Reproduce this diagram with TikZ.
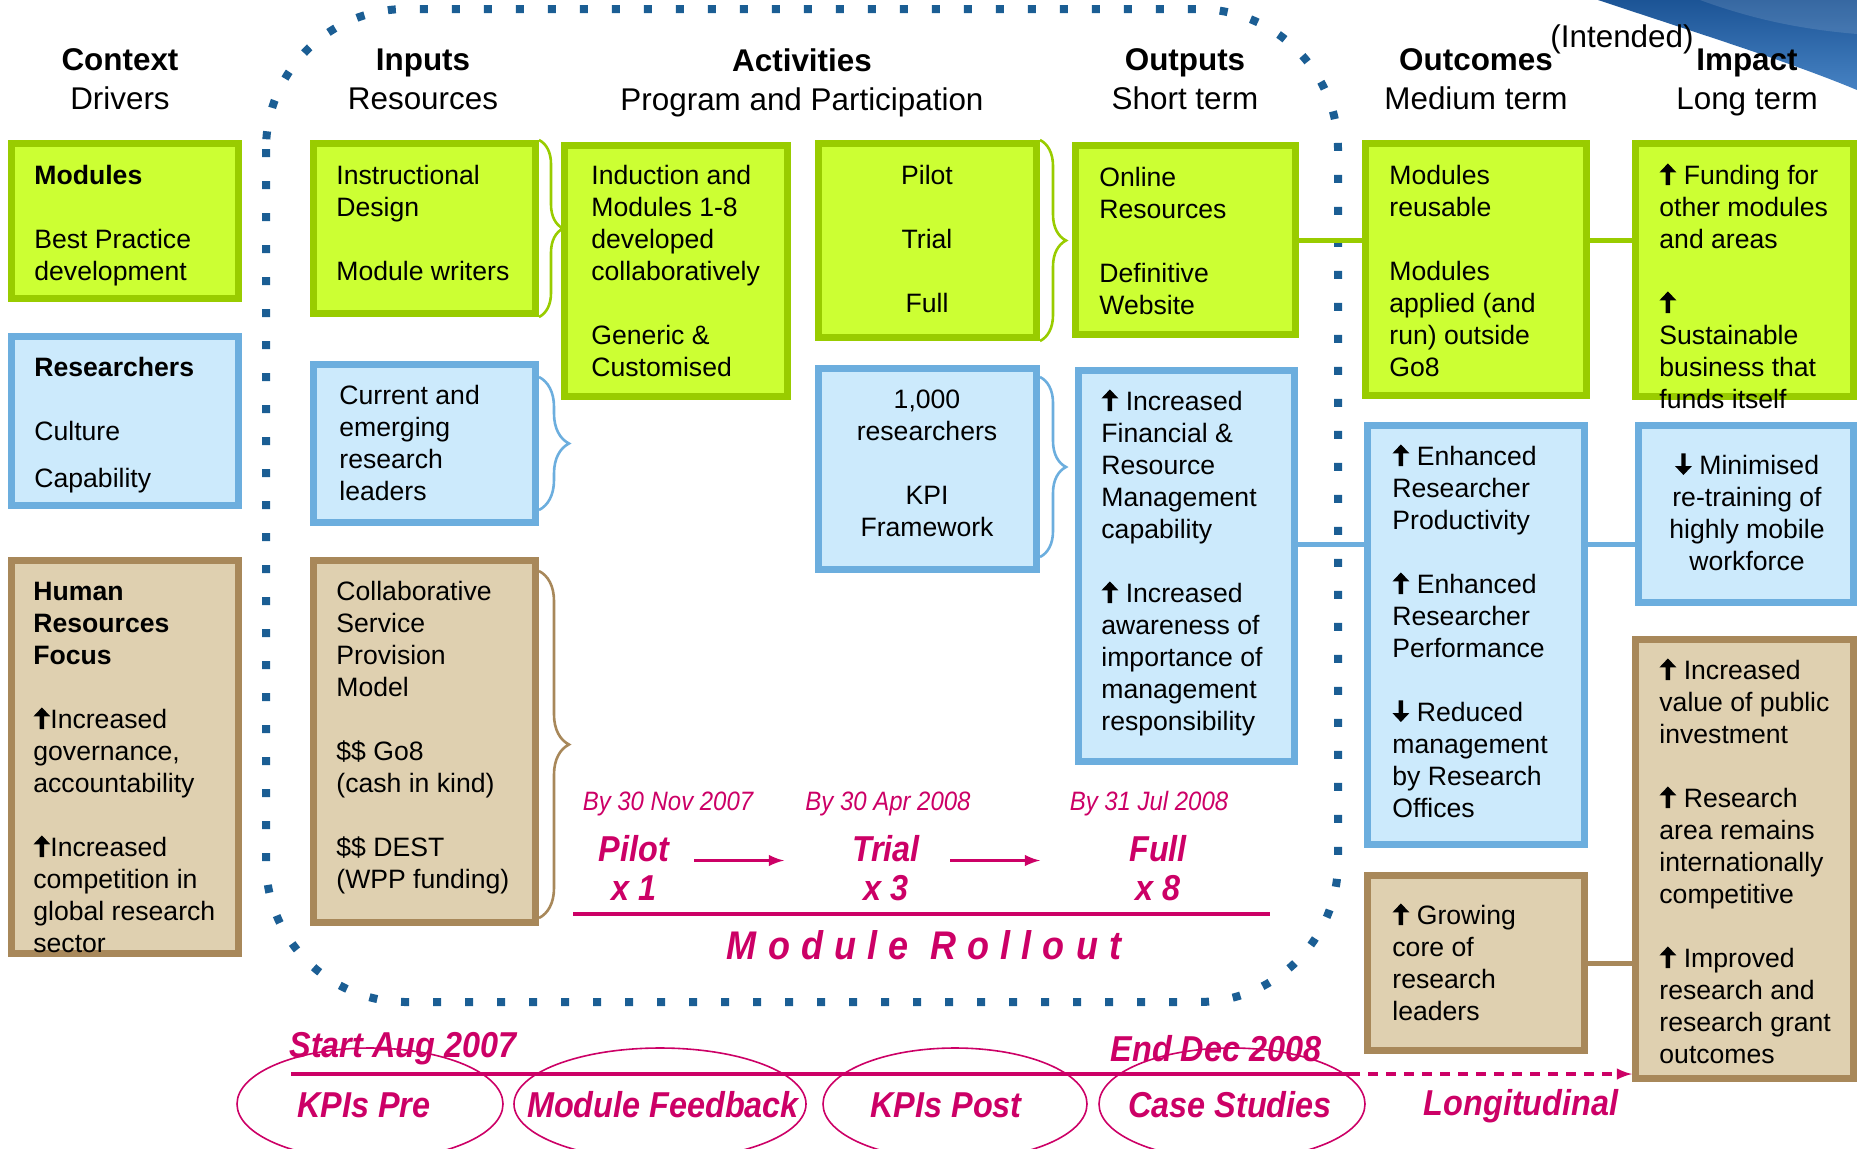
\documentclass[tikz,border=0pt]{standalone}
\usepackage{fontspec}
\setmainfont{Liberation Sans}
\newfontfamily\narrowfont[FakeStretch=0.9]{Liberation Sans}
\newfontfamily\rollfont[FakeStretch=0.9,LetterSpace=28]{Liberation Sans}
\usetikzlibrary{shapes,arrows,decorations.pathreplacing}
\definecolor{gborder}{RGB}{153,204,0}
\definecolor{gfill}{RGB}{204,255,51}
\definecolor{bborder}{RGB}{108,174,222}
\definecolor{bfill}{RGB}{204,234,252}
\definecolor{tborder}{RGB}{168,136,90}
\definecolor{tfill}{RGB}{223,208,176}
\definecolor{dotblue}{RGB}{27,94,148}
\definecolor{mag}{RGB}{204,0,102}
\definecolor{swdark}{RGB}{28,84,150}
\definecolor{swlight}{RGB}{70,130,195}
\newcommand{\incr}{\tikz[baseline=0pt,x=1pt,y=1pt]\fill[black] (-1.1,-0.3) -- (-1.1,6) -- (-4.25,6) -- (0,10.5) -- (4.25,6) -- (1.1,6) -- (1.1,-0.3) -- cycle;}
\newcommand{\decr}{\tikz[baseline=0pt,x=1pt,y=1pt]\fill[black] (-1.1,10.5) -- (-1.1,4.2) -- (-4.25,4.2) -- (0,-0.3) -- (4.25,4.2) -- (1.1,4.2) -- (1.1,10.5) -- cycle;}
\newcommand{\ts}{\rule{0pt}{10.5pt}}
\tikzstyle{gbox} = [rectangle, draw=gborder, fill=gfill, line width=3.5pt]
\tikzstyle{bbox} = [rectangle, draw=bborder, fill=bfill, line width=3.5pt]
\tikzstyle{tbox} = [rectangle, draw=tborder, fill=tfill, line width=3.5pt]
\tikzstyle{txt} = [anchor=north west, align=left, inner sep=0pt, font=\fontsize{13.3}{16}\selectfont]
\tikzstyle{ctxt} = [txt, anchor=north, align=center]
\tikzstyle{head} = [anchor=north, align=center, inner sep=0pt, font=\fontsize{15.7}{19.5}\selectfont]
\tikzstyle{gline} = [draw=gborder, line width=2.5pt]
\tikzstyle{bline} = [draw=bborder, line width=2.5pt]
\tikzstyle{tline} = [draw=tborder, line width=2.5pt]
\tikzstyle{gbrace} = [draw=gborder, line width=1.3pt, decorate]
\tikzstyle{bbrace} = [draw=bborder, line width=1.3pt, decorate]
\tikzstyle{tbrace} = [draw=tborder, line width=1.3pt, decorate]
\tikzstyle{dotline} = [draw=dotblue, line width=4pt, dash pattern=on 4pt off 12pt, rounded corners=70pt]
\tikzstyle{mtext} = [text=mag, inner sep=0pt, font=\narrowfont\fontsize{13.3}{16}\selectfont\itshape]
\tikzstyle{mbig} = [text=mag, inner sep=0pt, align=center, font=\narrowfont\fontsize{18}{19.5}\selectfont\bfseries\itshape]
\tikzstyle{rolltxt} = [text=mag, inner sep=0pt, font=\rollfont\fontsize{20}{24}\selectfont\bfseries\itshape]
\tikzstyle{mline} = [draw=mag, line width=2pt]
\tikzstyle{marrow} = [draw=mag, line width=1.6pt, -latex]
\tikzstyle{mdash} = [draw=mag, line width=1.6pt, dash pattern=on 5pt off 4pt, -latex]
\tikzstyle{kpiell} = [ellipse, draw=mag, line width=0.8pt, inner sep=0pt, minimum height=56pt]
\tikzstyle{kpitxt} = [mbig]
\begin{document}
\begin{tikzpicture}[x=0.5pt, y=-0.5pt]
		\useasboundingbox (0,0) rectangle (1857,1148);
		\clip (0,0) rectangle (1857,1148);
		%corner swoosh and programme frame
		\shade[top color=swdark, bottom color=swlight] (1598,0) .. controls (1700,34) and (1790,62) .. (1857,90) -- (1857,0) -- cycle;
		\fill[white, opacity=0.12] (1700,0) .. controls (1760,22) and (1810,30) .. (1857,34) -- (1857,0) -- cycle;
		\draw[dotline] (266,9) rectangle (1338,1002);
		
		%headings
		\node[head] (hctx) at (120,48) {\textbf{Context}\\Drivers};
		\node[head] (hinp) at (423,48) {\textbf{Inputs}\\Resources};
		\node[head] (hact) at (802,48) {\textbf{Activities}\\Program and Participation};
		\node[head] (hout) at (1185,48) {\textbf{Outputs}\\Short term};
		\node[head] (hocm) at (1476,48) {\textbf{Outcomes}\\Medium term};
		\node[head] (himp) at (1747,48) {\textbf{Impact}\\Long term};
		\node[head] (hint) at (1622,24) {(Intended)};
		
		%context
		\node[gbox, minimum width=113.5pt, minimum height=77.5pt] (ctxmod) at (125,221) {};
		\node[txt] (ctxmod-t) at (34,163) {\ts\textbf{Modules}\\[16pt]Best Practice\\development};
		\node[bbox, minimum width=113.5pt, minimum height=84.5pt] (ctxres) at (125,421) {};
		\node[txt] (ctxres-t) at (34,355) {\ts\textbf{Researchers}\\[16pt]Culture\\[7.5pt]Capability};
		\node[tbox, minimum width=113.5pt, minimum height=196.5pt] (ctxhr) at (125,757) {};
		\node[txt] (ctxhr-t) at (33,579) {\ts\textbf{Human}\\\textbf{Resources}\\\textbf{Focus}\\[16pt]\incr Increased\\governance,\\accountability\\[16pt]\incr Increased\\competition in\\global research\\sector};
		
		%inputs
		\node[gbox, minimum width=111pt, minimum height=85pt] (inpdes) at (424.5,228.5) {};
		\node[txt] (inpdes-t) at (336,163) {\ts Instructional\\Design\\[16pt]Module writers};
		\node[bbox, minimum width=111pt, minimum height=79pt] (inpres) at (424.5,443.5) {};
		\node[txt] (inpres-t) at (339,383) {\ts Current and\\emerging\\research\\leaders};
		\node[tbox, minimum width=111pt, minimum height=181pt] (inpcol) at (424.5,741.5) {};
		\node[txt] (inpcol-t) at (336,579) {\ts Collaborative\\Service\\Provision\\Model\\[16pt]\$\$ Go8\\(cash in kind)\\[16pt]\$\$ DEST\\(WPP funding)};
		
		%activities
		\node[gbox, minimum width=111.5pt, minimum height=125.5pt] (actind) at (676,271) {};
		\node[txt] (actind-t) at (591,163) {\ts Induction and\\Modules 1-8\\developed\\collaboratively\\[16pt]Generic \&\\Customised};
		\node[gbox, minimum width=109pt, minimum height=97pt] (actpil) at (927.5,240.5) {};
		\node[ctxt] (actpil-t) at (927,163) {\ts Pilot\\[16pt]Trial\\[16pt]Full};
		\node[bbox, minimum width=109pt, minimum height=100.5pt] (actres) at (927.5,469) {};
		\node[ctxt] (actres-t) at (927,387) {\ts 1,000\\researchers\\[16pt]KPI\\Framework};
		
		%outputs
		\node[gbox, minimum width=110pt, minimum height=94.5pt] (outonl) at (1185.5,240) {};
		\node[txt] (outonl-t) at (1099,165) {\ts Online\\Resources\\[16pt]Definitive\\Website};
		\node[bbox, minimum width=108pt, minimum height=195.5pt] (outfin) at (1186.5,566) {};
		\node[txt] (outfin-t) at (1101,389) {\ts\incr\ Increased\\Financial \&\\Resource\\Management\\capability\\[16pt]\incr\ Increased\\awareness of\\importance of\\management\\responsibility};
		
		%outcomes
		\node[gbox, minimum width=110.5pt, minimum height=126pt] (ocmmod) at (1476,269.5) {};
		\node[txt] (ocmmod-t) at (1389,163) {\ts Modules\\reusable\\[16pt]Modules\\applied (and\\run) outside\\Go8};
		\node[bbox, minimum width=108.5pt, minimum height=209.5pt] (ocmres) at (1476,635) {};
		\node[txt] (ocmres-t) at (1392,444) {\ts\incr\ Enhanced\\Researcher\\Productivity\\[16pt]\incr\ Enhanced\\Researcher\\Performance\\[16pt]\decr\ Reduced\\management\\by Research\\Offices};
		\node[tbox, minimum width=108.5pt, minimum height=87.5pt] (ocmgro) at (1476,963) {};
		\node[txt] (ocmgro-t) at (1392,903) {\ts\incr\ Growing\\core of\\research\\leaders};
		
		%impact
		\node[gbox, minimum width=109pt, minimum height=126.5pt] (impfun) at (1744.5,270) {};
		\node[txt] (impfun-t) at (1659,163) {\ts\incr\ Funding for\\other modules\\and areas\\[16pt]\incr\\Sustainable\\business that\\funds itself};
		\node[bbox, minimum width=107.5pt, minimum height=88.5pt] (impmin) at (1746,514) {};
		\node[ctxt] (impmin-t) at (1747,453) {\ts\decr\ Minimised\\re-training of\\highly mobile\\workforce};
		\node[tbox, minimum width=109pt, minimum height=219.5pt] (impval) at (1744.5,859) {};
		\node[txt] (impval-t) at (1659,658) {\ts\incr\ Increased\\value of public\\investment\\[16pt]\incr\ Research\\area remains\\internationally\\competitive\\[16pt]\incr\ Improved\\research and\\research grant\\outcomes};
		
		%braces
		\draw[gbrace, decoration={brace, amplitude=12pt}] (inpdes.north east) -- (inpdes.south east);
		\draw[bbrace, decoration={brace, amplitude=15pt}] ([yshift=-8pt]inpres.north east) -- ([yshift=8pt]inpres.south east);
		\draw[tbrace, decoration={brace, amplitude=15pt}] ([yshift=-7pt]inpcol.north east) -- ([yshift=4pt]inpcol.south east);
		\draw[gbrace, decoration={brace, amplitude=13pt}] (actpil.north east) -- (actpil.south east);
		\draw[bbrace, decoration={brace, amplitude=13pt}] ([yshift=-6pt]actres.north east) -- ([yshift=8pt]actres.south east);
		
		%links
		\draw[gline] (outonl.east) -- (outonl.east -| ocmmod.west);
		\draw[gline] (outonl.east -| ocmmod.east) -- (outonl.east -| impfun.west);
		\draw[bline] ([yshift=11pt]outfin.east) -- ([yshift=11pt]outfin.east -| ocmres.west);
		\draw[bline] ([yshift=11pt]outfin.east -| ocmres.east) -- ([yshift=11pt]outfin.east -| impmin.west);
		\draw[tline] (ocmgro.east) -- (ocmgro.east -| impval.west);
		
		%module roll out
		\node[mtext] (d1) at (668,804) {By 30 Nov 2007};
		\node[mtext] (d2) at (888,804) {By 30 Apr 2008};
		\node[mtext] (d3) at (1149,804) {By 31 Jul 2008};
		\node[mbig] (pilot) at (634,868) {Pilot\\x 1};
		\node[mbig] (trial) at (886,868) {Trial\\x 3};
		\node[mbig] (full) at (1158,868) {Full\\x 8};
		\draw[marrow] ([xshift=30pt,yshift=3.75pt]pilot.center) -- ([xshift=-51pt,yshift=3.75pt]trial.center);
		\draw[marrow] ([xshift=32pt,yshift=3.75pt]trial.center) -- ([xshift=-59pt,yshift=3.75pt]full.center);
		\coordinate (rollA) at (573,914);
		\coordinate (rollB) at (1270,914);
		\draw[mline] (rollA) -- (rollB);
		\node[rolltxt] (rollout) at (924,945) {Module Rollout};
		
		%evaluation timeline
		\coordinate (tlstart) at (291,1074);
		\coordinate (tlend) at (1350,1074);
		\draw[mline] (tlstart) -- (tlend);
		\draw[mdash] (tlend) -- (tlend -| impval.west);
		\node[kpiell, minimum width=133pt] (kpipre) at (370,1104) {};
		\node[kpiell, minimum width=146pt] (modfb) at (660,1104) {};
		\node[kpiell, minimum width=132pt] (kpipost) at (955,1104) {};
		\node[kpiell, minimum width=133pt] (cases) at (1232,1104) {};
		\node[kpitxt] (kpipre-t) at (364,1105) {KPIs Pre};
		\node[kpitxt] (modfb-t) at (663,1105) {Module Feedback};
		\node[kpitxt] (kpipost-t) at (946,1105) {KPIs Post};
		\node[kpitxt] (cases-t) at (1230,1105) {Case Studies};
		\node[kpitxt] (longit) at (1521,1106) {Longitudinal};
		\node[kpitxt] (tstart) at (403,1049) {Start Aug 2007};
		\node[kpitxt] (tend) at (1216,1049) {End Dec 2008};
	\end{tikzpicture}
\end{document}
